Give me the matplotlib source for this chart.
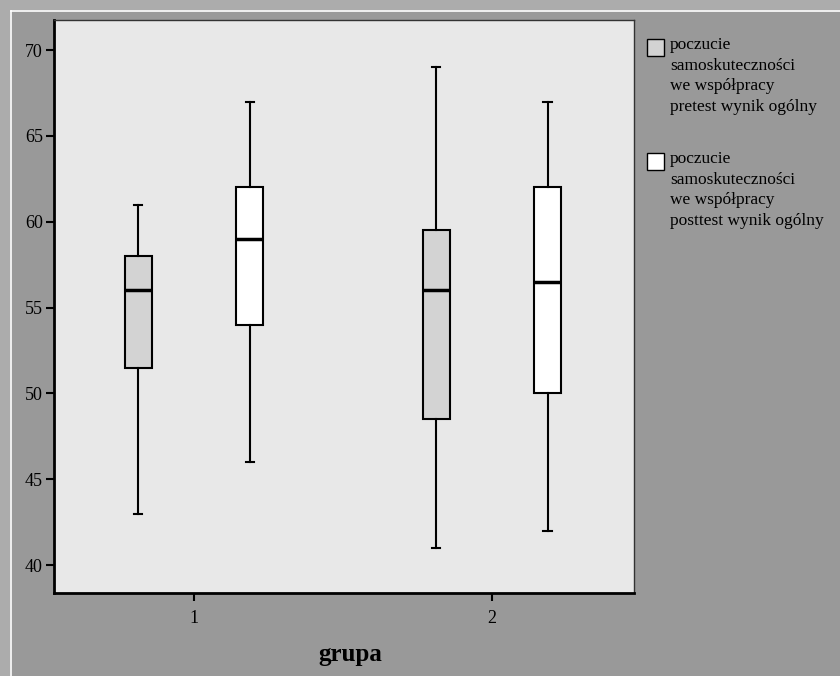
import matplotlib
matplotlib.use("Agg")
import matplotlib.pyplot as plt
from matplotlib.patches import Rectangle

groups = ["1", "2"]
series = ["poczucie\nsamoskuteczności\nwe współpracy\npretest wynik ogólny",
          "poczucie\nsamoskuteczności\nwe współpracy\nposttest wynik ogólny"]
# per group: [pretest, posttest] -> (whislo, q1, med, q3, whishi)
pre_stats = [(43, 51.5, 56, 58, 61), (41, 48.5, 56, 59.5, 69)]
post_stats = [(46, 54, 59, 62, 67), (42, 50, 56.5, 62, 67)]
yticks = [40, 45, 50, 55, 60, 65, 70]
colors = ['#d3d3d3', 'white']

plt.rcParams['font.family'] = ['Liberation Serif', 'DejaVu Serif']

W, H = 840, 676
fig = plt.figure(figsize=(W/100, H/100), dpi=100)
fig.patch.set_facecolor('#acacac')
fig.patches.append(Rectangle((10/W, 0), 1, (H-10)/H, transform=fig.transFigure,
                             facecolor='#999999', edgecolor='none', zorder=-10))
fig.lines.append(plt.Line2D([11/W, 11/W], [0, (H-11)/H], transform=fig.transFigure, color='white', lw=1.2))
fig.lines.append(plt.Line2D([11/W, 1], [(H-11)/H, (H-11)/H], transform=fig.transFigure, color='white', lw=1.2))

ax = fig.add_axes([54/W, (H-593)/H, (634-54)/W, (593-20)/H])
ax.set_facecolor('#e8e8e8')

def mk(s):
    return dict(whislo=s[0], q1=s[1], med=s[2], q3=s[3], whishi=s[4], fliers=[])

off = 0.187
pos = [1, 2]
common = dict(widths=0.09, showfliers=False, patch_artist=True,
              whiskerprops=dict(color='black', lw=1.5),
              capprops=dict(color='black', lw=1.5),
              medianprops=dict(color='black', lw=2.5),
              manage_ticks=False, capwidths=0.028)
ax.bxp([mk(s) for s in pre_stats], positions=[p - off for p in pos],
       boxprops=dict(facecolor=colors[0], edgecolor='black', lw=1.5), **common)
ax.bxp([mk(s) for s in post_stats], positions=[p + off for p in pos],
       boxprops=dict(facecolor=colors[1], edgecolor='black', lw=1.5), **common)

ax.set_xlim(0.530, 2.477)
ax.set_ylim(38.37, 71.75)
ax.set_xticks(pos)
ax.set_xticklabels(groups)
ax.set_yticks(yticks)
ax.tick_params(axis='both', labelsize=13, length=6, width=1.5, color='black', pad=2)
ax.tick_params(axis='x', pad=6)
for side in ['left', 'bottom']:
    ax.spines[side].set_linewidth(2)
for side in ['top', 'right']:
    ax.spines[side].set_linewidth(1)
    ax.spines[side].set_color('#333333')

fig.text(350/W, 1 - 655/H, 'grupa', fontsize=18, fontweight='bold', ha='center', va='center')

# legend drawn manually (SPSS style: swatch aligned with first line)
for i, (lab, col) in enumerate(zip(series, colors)):
    y0 = 39 + i * 114
    fig.patches.append(Rectangle((647/W, 1 - (y0 + 17)/H), 17/W, 17/H, transform=fig.transFigure,
                                 facecolor=col, edgecolor='black', lw=1))
    fig.text(670/W, 1 - (y0 - 2)/H, lab, fontsize=12.5, ha='left', va='top', linespacing=1.38)

fig.savefig('out.png', dpi=100, facecolor=fig.get_facecolor())
